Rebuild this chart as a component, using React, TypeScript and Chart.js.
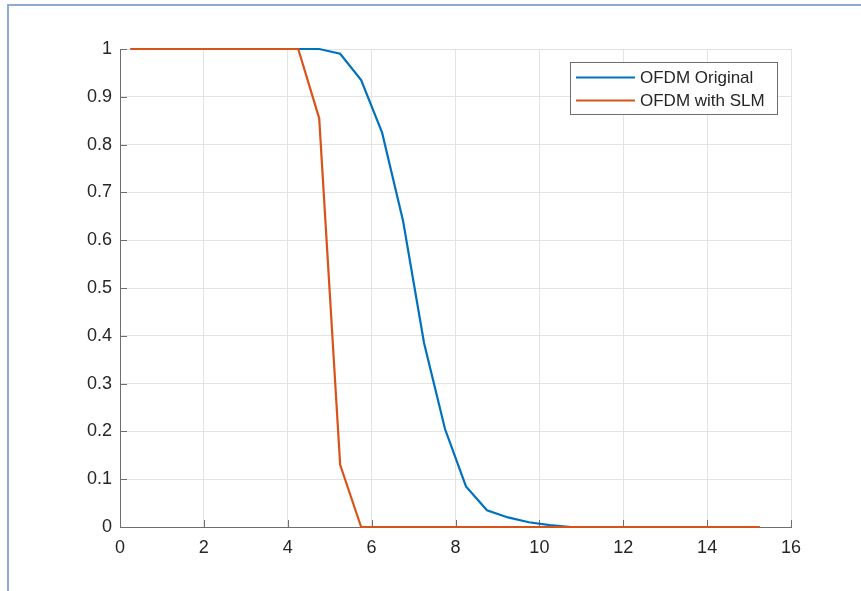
import React, { useEffect, useRef } from "react";
import { Chart, registerables } from "chart.js";

Chart.register(...registerables);

const xValues = [
  0.25, 0.75, 1.25, 1.75, 2.25, 2.75, 3.25, 3.75, 4.25, 4.75, 5.25, 5.75, 6.25, 6.75, 7.25, 7.75,
  8.25, 8.75, 9.25, 9.75, 10.25, 10.75, 11.25, 11.75, 12.25, 12.75, 13.25, 13.75, 14.25, 14.75, 15.25,
];
const ofdmOriginal = [
  1, 1, 1, 1, 1, 1, 1, 1, 1, 1, 0.99, 0.935, 0.825, 0.64, 0.385, 0.205,
  0.085, 0.035, 0.02, 0.01, 0.004, 0, 0, 0, 0, 0, 0, 0, 0, 0, 0,
];
const ofdmSLM = [
  1, 1, 1, 1, 1, 1, 1, 1, 1, 0.855, 0.13, 0, 0, 0, 0, 0,
  0, 0, 0, 0, 0, 0, 0, 0, 0, 0, 0, 0, 0, 0, 0,
];
const seriesLabels = ["OFDM Original", "OFDM with SLM"];
const seriesColors = ["#0072BD", "#D95319"];
const xTicks = [0, 2, 4, 6, 8, 10, 12, 14, 16];
const yTicks = [0, 0.1, 0.2, 0.3, 0.4, 0.5, 0.6, 0.7, 0.8, 0.9, 1];

const FONT = "'Liberation Sans', Arial, sans-serif";

const framePlugin = {
  id: "frame",
  beforeDraw(chart: any) {
    const ctx = chart.ctx;
    ctx.save();
    ctx.fillStyle = "#ffffff";
    ctx.fillRect(0, 0, chart.width, chart.height);
    ctx.fillStyle = "#8eaadb";
    ctx.fillRect(7, 4, chart.width - 7, 2);
    ctx.fillRect(7, 4, 2, chart.height - 4);
    ctx.restore();
  },
};

const innerTicksPlugin = {
  id: "innerTicks",
  beforeDatasetsDraw(chart: any) {
    const ctx = chart.ctx;
    const xs = chart.scales.x;
    const ys = chart.scales.y;
    const area = chart.chartArea;
    ctx.save();
    ctx.strokeStyle = "#6e6e6e";
    ctx.lineWidth = 1;
    ctx.beginPath();
    xTicks.forEach((t) => {
      const px = Math.round(xs.getPixelForValue(t)) + 0.5;
      ctx.moveTo(px, area.bottom);
      ctx.lineTo(px, area.bottom - 7);
    });
    yTicks.forEach((t) => {
      const py = Math.round(ys.getPixelForValue(t)) + 0.5;
      ctx.moveTo(area.left, py);
      ctx.lineTo(area.left + 7, py);
    });
    ctx.stroke();
    ctx.restore();
  },
};

const legendPlugin = {
  id: "boxLegend",
  afterDraw(chart: any) {
    const ctx = chart.ctx;
    const area = chart.chartArea;
    const right = area.right - 14;
    const top = area.top + 13;
    const w = 207;
    const h = 52;
    const left = right - w;
    ctx.save();
    ctx.fillStyle = "#ffffff";
    ctx.fillRect(left, top, w, h);
    ctx.strokeStyle = "#6e6e6e";
    ctx.lineWidth = 1;
    ctx.strokeRect(left + 0.5, top + 0.5, w, h);
    ctx.font = `17px ${FONT}`;
    ctx.textBaseline = "middle";
    ctx.textAlign = "left";
    chart.data.datasets.forEach((ds: any, i: number) => {
      const y = top + 15.5 + i * 23;
      ctx.strokeStyle = ds.borderColor;
      ctx.lineWidth = 2;
      ctx.beginPath();
      ctx.moveTo(left + 6, y);
      ctx.lineTo(left + 65, y);
      ctx.stroke();
      ctx.fillStyle = "#262626";
      ctx.fillText(ds.label, left + 70, y + 1);
    });
    ctx.restore();
  },
};

export default function App() {
  const ref = useRef<HTMLCanvasElement | null>(null);
  useEffect(() => {
    if (!ref.current) return;
    const chart = new Chart(ref.current, {
      type: "line",
      data: {
        datasets: [
          {
            label: seriesLabels[0],
            data: xValues.map((x, i) => ({ x, y: ofdmOriginal[i] })),
            borderColor: seriesColors[0],
            backgroundColor: seriesColors[0],
            borderWidth: 2.2,
            pointRadius: 0,
            tension: 0,
            order: 1,
            clip: 6,
          },
          {
            label: seriesLabels[1],
            data: xValues.map((x, i) => ({ x, y: ofdmSLM[i] })),
            borderColor: seriesColors[1],
            backgroundColor: seriesColors[1],
            borderWidth: 2.2,
            pointRadius: 0,
            tension: 0,
            order: 0,
            clip: 6,
          },
        ],
      },
      options: {
        animation: false,
        responsive: false,
        devicePixelRatio: 1,
        layout: { padding: { left: 0, top: 49, right: 70, bottom: 0 } },
        plugins: {
          legend: { display: false },
          tooltip: { enabled: false },
        },
        scales: {
          x: {
            type: "linear",
            min: 0,
            max: 16,
            afterBuildTicks: (scale: any) => {
              scale.ticks = xTicks.map((v) => ({ value: v }));
            },
            afterFit: (scale: any) => {
              scale.height = 64;
            },
            ticks: {
              font: { family: FONT, size: 18 },
              color: "#262626",
              padding: 10,
              maxRotation: 0,
              callback: (v: any) => String(v),
            },
            grid: { color: "#e3e3e3", drawTicks: false, lineWidth: 1 },
            border: { color: "#6e6e6e", width: 1 },
          },
          y: {
            type: "linear",
            min: 0,
            max: 1,
            afterBuildTicks: (scale: any) => {
              scale.ticks = yTicks.map((v) => ({ value: v }));
            },
            afterFit: (scale: any) => {
              scale.width = 120;
            },
            ticks: {
              font: { family: FONT, size: 18 },
              color: "#262626",
              padding: 8,
              callback: (v: any) => String(Math.round(Number(v) * 10) / 10),
            },
            grid: { color: "#e3e3e3", drawTicks: false, lineWidth: 1 },
            border: { color: "#6e6e6e", width: 1 },
          },
        },
      },
      plugins: [framePlugin, innerTicksPlugin, legendPlugin],
    } as any);
    return () => chart.destroy();
  }, []);
  return (
    <canvas
      ref={ref}
      width={861}
      height={591}
      style={{ position: "fixed", left: 0, top: 0, width: 861, height: 591, display: "block" }}
    />
  );
}
